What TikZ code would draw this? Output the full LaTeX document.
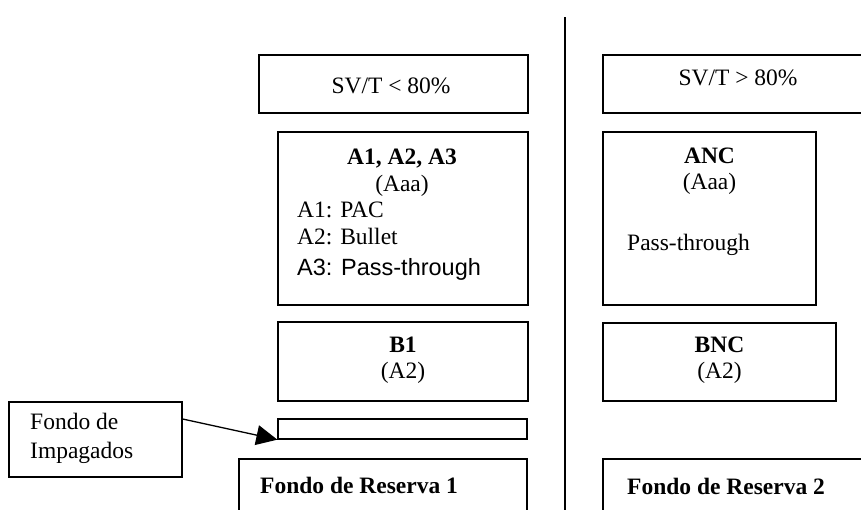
\documentclass[tikz,border=0pt]{standalone}
\usepackage{fontspec}
\setmainfont{Liberation Serif}
\newfontfamily\arialf{Liberation Sans}
\usetikzlibrary{arrows.meta,fit}
\begin{document}
\begin{tikzpicture}[x=1pt,y=-1pt,
  box/.style={draw,line width=1.3pt,inner sep=0pt},
  txt/.style={inner sep=0pt,font=\fontsize{23.5}{27}\selectfont},
  conn/.style={line width=1.3pt}]
\useasboundingbox (0,0) rectangle (861,509);
\clip (0,0) rectangle (861,509);
% divider
\coordinate (vtop) at (565,17);
\coordinate (vbot) at (565,512);
\draw[conn] (vtop) -- (vbot);
% left column
\node[box,fit={(259,55) (528,113)}] (svl) {};
\node[txt,anchor=base] (svltxt) at (391,93) {SV/T < 80\%};
\node[box,fit={(278,132) (528,305)}] (abox) {};
\node[txt,anchor=base] (atitle) at (402,164) {\textbf{A1, A2, A3}};
\node[txt,anchor=base] (aaaa) at (402,191) {(Aaa)};
\node[txt,anchor=base west] (a1) at (297,217) {A1: PAC};
\node[txt,anchor=base west] (a2) at (297,244) {A2: Bullet};
\node[txt,anchor=base west] (a3) at (297,275) {\arialf A3: Pass-through};
\node[box,fit={(278,322) (528,401)}] (bbox) {};
\node[txt,anchor=base] (btitle) at (403,352) {\textbf{B1}};
\node[txt,anchor=base] (ba2) at (403,378) {(A2)};
\node[box,fit={(278,419) (527,439)}] (sb) {};
\node[box,fit={(239,459) (527,530)}] (fr1) {};
\node[txt,anchor=base west] (fr1txt) at (260,493) {\textbf{Fondo de Reserva 1}};
\node[box,fit={(9,402) (182,477)}] (fi) {};
\node[txt,anchor=base west] (fi1) at (30,429) {Fondo de};
\node[txt,anchor=base west] (fi2) at (30,458) {Impagados};
\draw[conn,-{Triangle[length=21pt,width=20pt]}] ([yshift=20.5pt]fi.east) -- (sb.south west);
% right column
\node[box,fit={(603,55) (873,113)}] (svr) {};
\node[txt,anchor=base] (svrtxt) at (738,85) {SV/T > 80\%};
\node[box,fit={(603,132) (816,305)}] (ancbox) {};
\node[txt,anchor=base] (anctitle) at (709.5,163) {\textbf{ANC}};
\node[txt,anchor=base] (ancaaa) at (709.5,189) {(Aaa)};
\node[txt,anchor=base west] (pt) at (627,250) {Pass-through};
\node[box,fit={(603,323) (836,401)}] (bncbox) {};
\node[txt,anchor=base] (bnctitle) at (719.5,352) {\textbf{BNC}};
\node[txt,anchor=base] (bnca2) at (719.5,378) {(A2)};
\node[box,fit={(603,459) (880,530)}] (fr2) {};
\node[txt,anchor=base west] (fr2txt) at (627,494) {\textbf{Fondo de Reserva 2}};
\end{tikzpicture}
\end{document}
